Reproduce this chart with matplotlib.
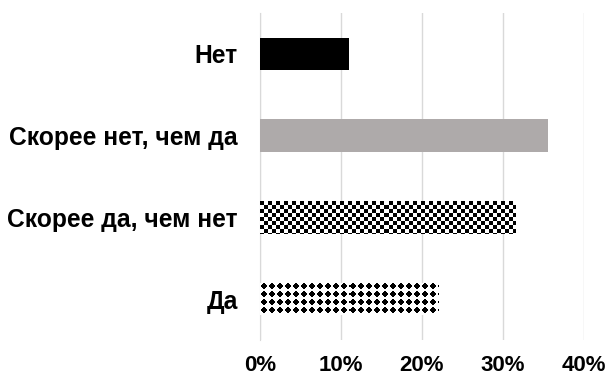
import matplotlib.pyplot as plt
import numpy as np

# survey answers, bottom to top
categories = ['Да', 'Скорее да, чем нет', 'Скорее нет, чем да', 'Нет']
shares = [22.0, 31.5, 35.5, 11.0]
fills = ['diamond', 'checker', '#aeaaaa', '#000000']
xticks = [0, 10, 20, 30, 40]

plt.rcParams['font.family'] = ['Liberation Sans', 'DejaVu Sans']
plt.rcParams['font.weight'] = 'bold'

fig = plt.figure(figsize=(6.07, 3.77), dpi=100)
ax = fig.add_axes([0.4283, 0.0981, 0.5338, 0.8674])

ypos = np.arange(len(categories))
bar_h = 0.40

ax.set_xlim(0, 40)
ax.set_ylim(-0.5, len(categories) - 0.5)

# pixels per data unit, used to size the fill patterns
bbox = ax.get_window_extent()
px_x = bbox.width / 40.0
px_y = bbox.height / len(categories)


def checker_tile():
    c = 4
    t = np.ones((2 * c, 2 * c))
    t[:c, :c] = 0
    t[c:, c:] = 0
    return t


def diamond_tile():
    n = 8
    yy, xx = np.mgrid[0:n, 0:n]
    d = np.abs(xx - 3.5) + np.abs(yy - 3.5)
    return np.where(d < 4.0, 0.0, 1.0)


for y, val, fill in zip(ypos, shares, fills):
    if fill.startswith('#'):
        ax.barh(y, val, height=bar_h, color=fill, zorder=3)
        continue
    bar = ax.barh(y, val, height=bar_h, color='white', zorder=3)[0]
    tile = checker_tile() if fill == 'checker' else diamond_tile()
    w = int(round(val * px_x))
    h = int(round(bar_h * px_y))
    reps = (h // tile.shape[0] + 2, w // tile.shape[1] + 2)
    img = np.tile(tile, reps)[:h, :w]
    im = ax.imshow(img, cmap='gray', vmin=0, vmax=1, aspect='auto',
                   interpolation='nearest', zorder=4,
                   extent=[0, val, y - bar_h / 2, y + bar_h / 2])
    im.set_clip_path(bar)

ax.set_yticks(ypos)
ax.set_yticklabels(categories, fontsize=17.7, fontweight='bold')
ax.set_xticks(xticks)
ax.set_xticklabels(['%d%%' % t for t in xticks], fontsize=16, fontweight='bold')
ax.tick_params(axis='both', length=0)
ax.tick_params(axis='y', pad=16)
ax.tick_params(axis='x', pad=11)

ax.grid(axis='x', color='#d9d9d9', linewidth=1, zorder=0)
ax.set_axisbelow(True)
for s in ['top', 'right', 'bottom']:
    ax.spines[s].set_visible(False)
ax.spines['left'].set_color('#d9d9d9')

fig.savefig('out.png', dpi=100)
